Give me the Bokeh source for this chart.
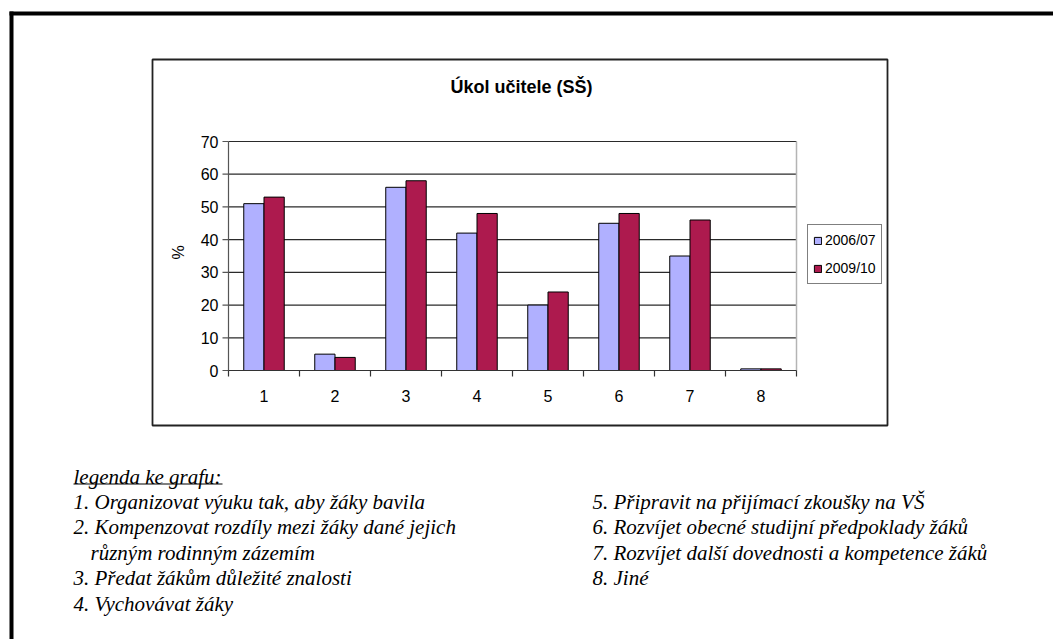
import math
from bokeh.plotting import figure
from bokeh.models import (Range1d, Label, BoxAnnotation, Legend, LegendItem,
                          ColumnDataSource)
from bokeh.transform import dodge
from bokeh.core.properties import value
from bokeh.embed import file_html
from bokeh.resources import INLINE

# ---------------- data ----------------
categories = ["1", "2", "3", "4", "5", "6", "7", "8"]
series_names = ["2006/07", "2009/10"]
values_2006 = [51, 5, 56, 42, 20, 45, 35, 0.5]
values_2009 = [53, 4, 58, 48, 24, 48, 46, 0.5]
y_ticks = [0, 10, 20, 30, 40, 50, 60, 70]
y_tick_labels = ["0", "10", "20", "30", "40", "50", "60", "70"]
title_text = "Úkol učitele (SŠ)"
y_label = "%"
legend_heading = "legenda ke grafu:"
legend_left = [
    "1. Organizovat výuku tak, aby žáky bavila",
    "2. Kompenzovat rozdíly mezi žáky dané jejich",
    "   různým rodinným zázemím",
    "3. Předat žákům důležité znalosti",
    "4. Vychovávat žáky",
]
legend_right = [
    "5. Připravit na přijímací zkoušky na VŠ",
    "6. Rozvíjet obecné studijní předpoklady žáků",
    "7. Rozvíjet další dovednosti a kompetence žáků",
    "8. Jiné",
]

# ---------------- layout constants (page pixels) ----------------
W, H = 1053, 639
FL, FR, FT, FB = 228, 796, 141, 370   # plot area
N = len(categories)
YMAX = y_ticks[-1]
PXX = (FR - FL) / N          # pixels per category
PXY = (FB - FT) / YMAX       # pixels per percent

x0 = 0.5 - FL / PXX
y0 = 0 - (H - FB) / PXY
p = figure(width=W, height=H, output_backend="svg", toolbar_location=None,
           x_range=Range1d(x0, x0 + W / PXX), y_range=Range1d(y0, y0 + H / PXY),
           x_axis_location=None, y_axis_location=None, min_border=0, title=None)
p.outline_line_color = None
p.background_fill_color = "white"
p.border_fill_color = "white"
p.grid.visible = False

xs = [i + 1 for i in range(N)]
xlo, xhi = 0.5, N + 0.5
src = ColumnDataSource(dict(x=xs, a=values_2006, b=values_2009))

# grid lines
p.segment(x0=xlo, x1=xhi, y0=y_ticks[1:], y1=y_ticks[1:], line_color="#2a2a2a", line_width=1.2)
# right plot-area edge
p.segment(x0=[xhi], x1=[xhi], y0=[0], y1=[YMAX], line_color="#B4B4B4", line_width=1.5)

BLUE = "#B0B0FF"
RED = "#AD1A4E"
bw = 0.285
r1 = p.vbar(x=dodge("x", -bw / 2, range=p.x_range), top="a", width=bw, source=src,
            fill_color=BLUE, line_color="black", line_width=1)
r2 = p.vbar(x=dodge("x", bw / 2, range=p.x_range), top="b", width=bw, source=src,
            fill_color=RED, line_color="black", line_width=1)

SANS = "'Liberation Sans', Arial, sans-serif"
SERIF = "'Liberation Serif', 'Times New Roman', 'DejaVu Serif', serif"

# y axis
p.segment(x0=[xlo], x1=[xlo], y0=[0], y1=[YMAX], line_color="#555555", line_width=1.2)
p.ray(x=[xlo] * len(y_ticks), y=y_ticks, length=6, length_units="screen",
      angle=math.pi, line_color="#555555", line_width=1.2)
p.text(x=[xlo] * len(y_ticks), y=y_ticks, text=y_tick_labels, x_offset=-10,
       text_align="right", text_baseline="middle", text_font=value(SANS),
       text_font_size="16px", text_color="black")
# x axis
p.segment(x0=[xlo], x1=[xhi], y0=[0], y1=[0], line_color="#333333", line_width=1.2)
bounds = [i + 0.5 for i in range(N + 1)]
p.ray(x=bounds, y=[0] * len(bounds), length=6, length_units="screen",
      angle=-math.pi / 2, line_color="#333333", line_width=1.2)
p.text(x=xs, y=[0] * N, text=categories, y_offset=25, text_align="center",
       text_baseline="middle", text_font=value(SANS),
       text_font_size="16px", text_color="black")


def sy(py):
    return H - py


def box(l, r, t, b, **kw):
    return BoxAnnotation(left=l, right=r, top=sy(t), bottom=sy(b),
                         left_units="screen", right_units="screen",
                         top_units="screen", bottom_units="screen", **kw)


# outer page frame
p.add_layout(box(9, 1070, 11, 15, fill_color="black", fill_alpha=1, line_color=None))
p.add_layout(box(9, 13, 11, 660, fill_color="black", fill_alpha=1, line_color=None))
# chart box
p.add_layout(box(152, 887, 59, 425, fill_color=None, fill_alpha=0,
                 line_color="#222222", line_width=1.8, line_alpha=1))

# title and y label
p.add_layout(Label(x=521, y=sy(86), x_units="screen", y_units="screen",
                   text=title_text, text_align="center", text_baseline="middle",
                   text_font=SANS, text_font_style="bold",
                   text_font_size="18px", text_color="black"))
p.add_layout(Label(x=178, y=sy(252), x_units="screen", y_units="screen",
                   text=y_label, angle=math.pi / 2, text_align="center",
                   text_baseline="middle", text_font=SANS,
                   text_font_size="16px", text_color="black"))

# legend
legend = Legend(items=[LegendItem(label=series_names[0], renderers=[r1]),
                       LegendItem(label=series_names[1], renderers=[r2])],
                location=(807, sy(284)), orientation="vertical",
                border_line_color="black", border_line_width=1,
                background_fill_color="white", background_fill_alpha=1,
                glyph_width=9, glyph_height=9, label_standoff=3,
                label_height=20, spacing=8, padding=5, margin=0,
                label_text_font=SANS, label_text_font_size="14px",
                label_text_color="black")
p.add_layout(legend)

# bottom text legend (text centres)
LINE = 25.4
c0 = 476
serif = dict(x_units="screen", y_units="screen", text_font=SERIF,
             text_font_style="italic", text_font_size="21px", text_color="black",
             text_baseline="middle", text_align="left")
p.add_layout(Label(x=73, y=sy(c0), text=legend_heading, **serif))
p.add_layout(box(73, 222, c0 + 7, c0 + 8, fill_color="black", fill_alpha=1, line_color=None))
for i, t in enumerate(legend_left):
    xpos = 73 if not t.startswith(" ") else 90
    p.add_layout(Label(x=xpos, y=sy(c0 + LINE * (i + 1)), text=t.strip(), **serif))
for i, t in enumerate(legend_right):
    p.add_layout(Label(x=592, y=sy(c0 + LINE * (i + 1)), text=t, **serif))

open("out.html", "w").write(file_html(p, INLINE))
